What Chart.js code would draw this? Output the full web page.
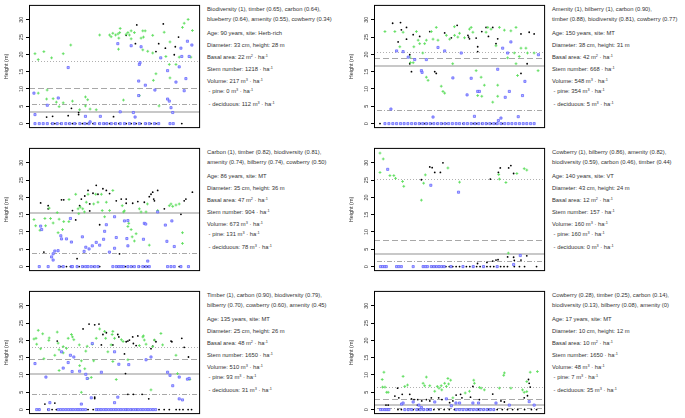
<!DOCTYPE html>
<html>
<head>
<meta charset="utf-8">
<script src="https://cdn.jsdelivr.net/npm/chart.js@4"></script>
<style>
  body { margin: 0; background: #fff; width: 685px; height: 418px; position: relative; overflow: hidden; font-family: "Liberation Sans", Arial, sans-serif; }
  canvas { position: absolute; }
  .txt { position: absolute; font-size: 5.8px; line-height: 7px; color: #333; white-space: nowrap; }
  sup { font-size: 3.8px; vertical-align: 2.5px; line-height: 0; }
</style>
</head>
<body>
<canvas id="c1" width="205" height="133" style="left:0;top:0"></canvas>
<canvas id="c2" width="205" height="133" style="left:345px;top:0"></canvas>
<canvas id="c3" width="205" height="133" style="left:0;top:143px"></canvas>
<canvas id="c4" width="205" height="133" style="left:345px;top:143px"></canvas>
<canvas id="c5" width="205" height="133" style="left:0;top:286px"></canvas>
<canvas id="c6" width="205" height="133" style="left:345px;top:286px"></canvas>
<script>
// y axis (height, m)
const yMin = -1.3;
const yMax = 34.3;
const yTicks = [0, 5, 10, 15, 20, 25, 30];

// panel 1 : biodiversity
const p1Green = [[3.5,20.2],[5.4,18.5],[8.7,20.8],[5.4,8.8],[10.6,9.7],[10.3,7.1],[14.1,7.2],[13.2,19.0],[16,6.2],[17.6,4.9],[20,20.2],[20,6],[24.4,22.7],[25.4,6.5],[29.6,4.0],[33,7.7],[34.3,6.9],[33,5.1],[35.7,4.2],[39.3,4.0],[41.3,25.6],[47.1,25.6],[48,25.1],[49,26.1],[50.6,25.6],[52,25.9],[53,26.3],[53.3,27.5],[52.5,24.7],[52.3,21.5],[55.2,6.8],[56.8,25.8],[57.8,26.3],[58.7,25.6],[59.7,26.8],[61.6,26.3],[59.7,24.5],[65.5,24.7],[66.5,26.8],[66.9,25],[67.9,26.8],[66.5,21.3],[69.4,20.9],[72.3,20.4],[72.3,25.5],[64.5,8.1],[72.7,12.5],[74.2,14.4],[76,5.1],[79,26.4],[80,19.4],[82,17.1],[82.4,23.6],[82.4,13.2],[85.9,17.1],[87.8,19.2],[89.7,27.8],[90.7,29],[93,30.1],[95.5,26.9],[94.6,19.2]];
const p1Black = [[10.3,1.9],[13.8,2.1],[22.9,2.3],[24.8,4.4],[29,3.2],[29,2.6],[49.4,2.0],[63,28.5],[62.2,23.1],[56.8,25.5],[75.8,23.1],[78.5,28.8],[79.7,21.8],[74.2,20.8],[84.9,19.9],[85.5,22.2],[87.4,25]];
const p1Blue = [[2.9,8.8],[3.5,2.6],[10.7,5.3],[17.1,7.4],[22.9,16.2],[33,2.1],[35.7,0.5],[41.7,2.1],[51.9,23.1],[53.3,3.4],[59.7,22.5],[61,3.2],[62,1.9],[64.5,17.1],[64.9,17.6],[64.1,12.3],[64.1,8.1],[65.5,22.2],[68,11.1],[73.6,9.7],[77,19],[81,15.3],[81,7.1],[82,6.5],[83,4.6],[84,3.2],[85.9,12],[87.8,16.4],[88.8,21.8],[89.3,19.4],[90.7,9.5],[91.7,13],[92.6,23.8],[93.6,19.4],[95.2,22.7]];
const p1BlueZero = [3.5,6,8.3,10.7,13.8,16.5,19,21.5,23.8,26.7,29.7,32.6,35.1,38.4,41.3,43.6,45.5,48.1,50.6,53.3,55.8,58.7,61.6,64.5,68,70.3,73.3,75.8,82.4,84.3];
const p1BlackZero = [13.2,15.1,18.4,23.4,25.4,27.3,31.2,33.9,37.4,40.9,44.2,47.1,50,52.5,56.8,59.7,62.6,65.5,68.4,71.3,74.2,89.3];
const p1Lines = [['dotted',18.1],['dashed',10.2],['dotdash',5.7],['solid',3.3]];
const p1Rank = ['Biodiversity (1), timber (0.65), carbon (0.64),', 'blueberry (0.64), amenity (0.55), cowberry (0.34)'];
const p1Stand = ['90', 'Herb-rich', '33', '28', '22', '1218', '217', '0', '112'];

// panel 2 : amenity
const p2Green = [[6.4,26.6],[12.2,26.6],[17,26.4],[15.1,22.2],[21,19.2],[21.3,17.6],[22.9,17.6],[23.3,22.2],[24.8,26.6],[25.8,24.1],[26.7,23.1],[29.6,23.1],[30.6,24.1],[28.5,20.4],[30.6,13.4],[31.6,12.5],[33.5,26.6],[34.5,24.4],[36.4,27.8],[37.4,24.1],[39.3,10.8],[40.3,9.3],[41.3,8.8],[42.3,25.5],[44.2,24.4],[46,17.3],[47.1,25.5],[47,28],[49,25],[50,26.1],[52.9,24.8],[55.8,27.3],[56.8,27.8],[57.8,26.4],[59.7,15.3],[60.6,8.1],[62.6,13.4],[63,7.9],[64.5,11.1],[65.5,26.4],[66.5,27.8],[68.4,27.3],[71.3,22.5],[72.3,11.1],[72.3,7.9],[73.3,27.8],[76.2,27],[78.1,19],[80,26.8],[82,20.4],[83,27.8],[83,17.3],[83.9,13.9],[84.9,19.4],[85.9,21.8],[88.8,21.8],[89.7,20.4],[93.6,20.4],[95.9,15.3],[69.4,6.2]];
const p2Black = [[10.9,29],[15.5,29.2],[16,27.1],[14.1,23.6],[19,27.8],[19,24.4],[20.9,19.9],[20.9,17.3],[21.9,15],[22.9,25.7],[26.7,25.2],[32.6,26.6],[35.5,15],[36.4,14.5],[41.3,26.2],[45.2,24.8],[48.6,28.4],[54.9,25.5],[55.3,25],[55.8,24.5],[59.7,24.7],[60.6,20.8],[60.6,22.2],[63,26.6],[65.5,27.8],[66.9,25.2],[69.4,27.8],[71.3,23.1],[72.3,24.5],[85.9,25.9],[90.7,26.4],[93.6,25.9],[85.9,14.5],[89.5,17.3]];
const p2Blue = [[13.2,21],[9.9,4.2],[17,20.8],[20,19.2],[23.8,18.5],[27.7,15.3],[28.1,14.8],[30.6,18.5],[34.5,1.9],[37.4,22],[41.3,21],[46.1,13.2],[51,20.4],[54.4,8.3],[56.8,13.1],[58.7,2.1],[60.6,9.3],[61.6,9.3],[72.3,15.7],[72.7,0.9],[74.2,1.6],[75.2,21.8],[76.7,7.6],[78.1,20.4],[79.1,9.3],[80,23.6],[86.8,8.1],[88.2,12.2],[84.3,2],[96.1,19.9]];
const p2BlueZero = [6.4,8.7,11,13.2,15.5,17.6,19.8,22,24.2,26.4,28.5,30.6,32.8,35,37.2,39.3,41.5,43.6,45.8,48,50,52.5,54.6,56.8,59,61.2,63.4,65.5,67.7,70,72,74.2,76.4,78.5,80.6,82.8,85,87.2,89.3,91.5,93.6];
const p2BlackZero = [3.5,24,27,29.5,31,33.6,37,40,42,52,58,60,63,66,68.5,71,75];
const p2Lines = [['dotted',20.7],['dashed',19.0],['solid',16.5],['dotdash',3.8]];
const p2Rank = ['Amenity (1), bilberry (1), carbon (0.90),', 'timber (0.88), biodiversity (0.81), cowberry (0.77)'];
const p2Stand = ['150', 'MT', '38', '31', '42', '668', '548', '354', '5'];

// panel 3 : carbon
const p3Green = [[2.9,13.6],[3.9,11.8],[6.4,10.5],[9.3,13.9],[9.7,11.8],[11.8,16.9],[12.6,13.9],[14.1,12.6],[16.5,15.6],[17.6,13.7],[17,9.8],[19.6,10.7],[20.3,13],[23.4,19.4],[23.3,13],[27.3,20.9],[28.7,16.7],[30,17.2],[29.1,15.3],[31.4,16.7],[32.4,15.8],[33.5,18.6],[34.5,20.9],[37.8,18.1],[39,20.9],[40.3,18.6],[42.3,20.9],[42.8,16.2],[44.2,14.4],[45.2,18.6],[47.1,16.2],[49,22],[54.5,17.6],[55.2,15.8],[55.8,16.1],[57.8,11.6],[58.3,12.5],[59.7,10.7],[60.3,8.6],[61.6,7.4],[62.6,9.5],[64.5,16.7],[65.5,15.8],[68.4,15.8],[69.2,18.1],[70.3,6.2],[75.2,16.2],[82,17.6],[83,18.1],[84,17.4],[85.9,17.8],[87.8,18.1],[89.7,9.8],[89.7,6.7]];
const p3Black = [[6.8,18.4],[11.2,17.6],[11.2,16.7],[8.7,4.2],[19,19.3],[20.3,19.3],[25.4,16.2],[27.3,13.5],[28.1,2.3],[29.6,17.6],[30.6,19.5],[32.6,20.4],[34.5,22],[35.5,18.1],[35.5,16.1],[37.4,21.2],[39.3,23.5],[40.3,20.9],[41.3,12.1],[43.2,22.5],[45.2,22],[47.1,21.1],[51,19],[52.9,3.7],[53.9,19.5],[56.8,19.5],[56.8,18.3],[60.6,18.3],[63.6,18.8],[67.4,18.6],[70.3,20.2],[71.3,20.9],[72.3,21.5],[72.9,19.5],[73.3,19],[75.2,22],[79.1,16.7],[88.8,15.1],[90.7,19],[91.7,19.5],[95.5,21.5]];
const p3Blue = [[6.8,11.7],[7.4,10.7],[13.2,2.8],[14.1,3.7],[15.1,4.5],[14.1,1.9],[17,4.6],[18.6,8.9],[19,8],[21.9,8],[24.8,7.1],[24.2,13.9],[31.2,8.6],[32.2,4.4],[33.2,5.6],[35.1,5.1],[37,6],[39.3,7],[41.3,6.2],[43.6,7.9],[44.2,10.2],[45.2,12.1],[47,4.2],[50,14.4],[50,5.3],[51,8.4],[55.8,13.2],[57.8,13.3],[57.2,8.1],[57.8,6],[66.9,7.9],[67.4,12.5],[68.2,12.3],[69.4,1.6],[75.2,15.8],[79.7,12],[80.6,7.3],[83.5,13.2],[84.9,5.8]];
const p3BlueZero = [6,11.2,17.6,20,24.8,25.4,28.1,31.2,33.1,34.5,36.4,38.4,40.3,49,51,52.5,53.9,55.2,57.8,59.7,61.6,64.1,66.5,68.4,70.3,81,83,84.9,88.8,93.2];
const p3BlackZero = [18.6,21.9,24.2,29.3,31.6,37.8,41.3,51.9,56.4,60.3,64.5,67.4,69.4,87.8];
const p3Lines = [['solid',15.6],['dotdash',3.9]];
const p3Rank = ['Carbon (1), timber (0.82), biodiversity (0.81),', 'amenity (0.74), bilberry (0.74), cowberry (0.50)'];
const p3Stand = ['86', 'MT', '35', '36', '47', '904', '673', '131', '78'];

// panel 4 : cowberry
const p4Green = [[3.5,32.8],[5.4,31.1],[3.5,27.2],[9.3,26.3],[11.6,26.3],[12.6,25.5],[16.7,24.6],[17.4,23.2],[27.7,19.2],[29,24.1],[30,26.5],[43.2,28.5],[50,24.4],[73.3,25.3],[72.9,26.6],[77.1,24.3],[83.5,26.9],[87.8,28.3],[89.3,27.9],[78.5,3.9]];
const p4Black = [[27.7,25.1],[32.6,28.8],[34,28.6],[35.5,27.2],[38.8,27.2],[40.3,30],[68,25.3],[72.7,27.2],[73.8,28.5],[78.7,28.5],[80,29.2],[81.6,26.9],[69.4,1.6],[71.3,1.9],[72.5,2],[78.1,2.8],[81.6,2.7],[82,1.8],[85.9,1.9],[89.3,3.1],[60.5,0.9],[66,1.2]];
const p4Blue = [[8,28.1],[33.2,23.5],[49.4,21.5],[85.5,3.2],[81.6,0.6]];
const p4BlueZero = [3.8,5,6.2,7.2,13.2,14.5,16,22.9,28.7,30,31.2,33.5,35,36.5,38,39.5,41,45,52,58,64,72];
const p4BlackZero = [34,36,38,40,42,44,46,48,50,52,54,56,58,60,62,64,66,68,70,72,74,76,78,82,85,88,95];
const p4Lines = [['dotted',25.3],['dashed',7.6],['solid',3.6],['dotdash',1.7]];
const p4Rank = ['Cowberry (1), bilberry (0.86), amenity (0.82),', 'biodiversity (0.59), carbon (0.46), timber (0.44)'];
const p4Stand = ['140', 'VT', '43', '24', '12', '157', '160', '160', '0'];

// panel 5 : timber
const p5Green = [[2.9,20.4],[4.1,20.6],[4.5,18.9],[5.4,22.9],[6.8,17.6],[8,21.9],[8.7,14.7],[11.8,20.7],[11.6,20],[15.1,15.7],[16.5,22.4],[17,19.2],[17.6,17.3],[17.6,11.3],[20,16.4],[20,18.2],[21.9,17.7],[22.9,20.6],[24.8,21.7],[25.4,21],[26.2,20.2],[29.4,18.7],[29.6,12.7],[30.6,14.1],[30.6,5],[32.6,11.8],[33.2,16.9],[34,18.3],[34.5,9],[36.4,9.3],[37,18.9],[37.8,14.1],[39.3,20.6],[41.3,23.3],[44.2,22.6],[44.8,20.6],[46.1,16.7],[48,18.7],[48.6,21.7],[49,22.6],[49,13.9],[50,20.6],[51,8.7],[54,20.2],[55,19.7],[57.8,14.4],[64.5,18.5],[66.5,21],[66.9,21.3],[67.4,20.1],[68.4,18.9],[71.3,5.7],[72.3,18.2],[73.3,20.1],[77.1,22],[78.1,18.7],[85.9,15.7],[86.8,10.4],[94,8.7]];
const p5Black = [[16.5,19.8],[31.6,23.3],[35.1,24.7],[38.4,24.5],[40.9,24.7],[42.3,18.7],[43.2,21.7],[45.2,22.2],[49,18.7],[51.9,21.7],[52.5,21],[55.8,16.1],[56.4,10.4],[56.8,19.6],[57.8,19.8],[58.7,20.1],[60.6,21],[61,19.1],[62.6,18.5],[63.6,21.3],[71.3,17.6],[72.3,18.3],[73.3,20.1],[74.2,19.6],[83,19.8],[83.5,19.6],[89.3,20.6],[90.7,18],[93.2,15.2],[57.8,4.4],[61,4.4],[66.1,4.4],[70,3.1],[38.4,3.6],[38.4,3.2],[15.1,1.9],[9.3,1.6]];
const p5Blue = [[3.5,13.3],[9.9,9.4],[12.2,2],[19,16.7],[20,12],[22.9,13.6],[24.2,15.7],[25.2,11],[26.2,15.2],[29.6,11.1],[30.6,1.6],[33.2,10.2],[34,9],[36.4,3.4],[37,19.1],[42.3,10.8],[50,16.7],[50,2],[51.9,3.6],[52.5,13.1],[58.3,13],[68.4,14.4],[71.3,15.2],[81,10.8],[82.4,9.9],[84,6.9],[87.8,9.4],[87.8,3.1],[89.7,2.8],[92.6,8.8],[93.6,9]];
const p5BlueZero = [4.5,6,11.5,17.1,18.5,20,21.5,23,24.4,25.8,27.3,28.7,30,31.4,33,39.3,40.7,42.1,43.6,45,46.5,48,49.4,50.8,52.3,53.7,55.2,56.6,58,59.5,61,62.4,63.8,65.3,66.7,68.2,69.6,71,72.5,74];
const p5BlackZero = [6,11,13.5,16,34.5,37.5,40,57,60,63,76,79,82,86,88,90,93,95];
const p5Lines = [['dotted',18],['dashed',14.6],['solid',10.3],['dotdash',4.4]];
const p5Rank = ['Timber (1), carbon (0.90), biodiversity (0.79),', 'bilberry (0.70), cowberry (0.60), amenity (0.45)'];
const p5Stand = ['135', 'MT', '25', '26', '48', '1650', '510', '93', '31'];

// panel 6 : young stand
const p6Green = [[4.8,8.7],[5.8,10.8],[5,6.5],[6.4,6.5],[7.4,5],[8.3,5],[17,9.6],[18,6.7],[19.6,7.1],[30.6,9.4],[28.7,7.6],[29.6,6.9],[32.6,6.9],[35.5,5.3],[37,6.7],[38,6.2],[39.3,6.9],[39.6,5.7],[41.3,7.6],[42.3,6.7],[43.2,9],[43.6,7.4],[44.8,8.5],[46.1,3.4],[53.3,4.8],[55.8,5.3],[58.3,8.5],[58.7,7.6],[61.6,6.4],[62.6,6.2],[64.5,5.7],[73.3,6.2],[75.8,9.9],[76.2,10.6],[80,6.2],[86.8,5.7],[87.8,5],[89.3,8.1],[91.3,10.8],[95.5,11],[89.3,5.2]];
const p6Black = [[7,1.3],[8.3,1.3],[12.2,3.9],[13.8,6.2],[14.5,3.4],[16.5,4.4],[20.9,4.4],[21.9,3.1],[23.4,2.9],[25.4,1.3],[25.6,2.9],[27.9,2.5],[30.6,2.9],[32.6,2.5],[33.5,3.4],[37.8,3.4],[39.7,2.9],[42.3,3.1],[44.2,2],[46.1,2.5],[48,4.2],[50.6,4.4],[51.4,3.4],[56.4,3.6],[57.8,6.7],[61.6,2.9],[69.4,4.5],[74.2,2.5],[76.2,2.2],[87.8,3.4],[89.7,4],[90.3,8.7],[90.7,7.6],[91.3,6.5]];
const p6Blue = [[16.1,1.6],[17,1.9],[22.9,2.2],[26.2,1.3],[27.7,0.6],[35.5,2.2],[42.3,3.1],[45.2,1.1],[47.9,1.9],[50,1.9],[57.8,1.9],[61.1,1.9],[71.3,1.9],[79.1,1.3],[90.7,2.3],[93.6,1.3]];
const p6BlueZero = [3.8,5,6.4,7.6,8.7,18,20,22,25,27,29,31,33,48,50,52,54,56,58,60,62,64,66,68,70];
const p6BlackZero = [14,16,20,23,26,29,32,35,38,41,44,47,52,55,58,61,64,67,70,72,75,78,81,84,88,92,95];
const p6Lines = [['dotted',6.5],['dashed',3.1],['solid',1.2],['dotdash',0.4]];
const p6Rank = ['Cowberry (0.28), timber (0.25), carbon (0.14),', 'biodiversity (0.13), bilberry (0.08), amenity (0)'];
const p6Stand = ['17', 'MT', '10', '12', '10', '1650', '48', '7', '35'];

const lineStyles = {
  dotted: { color: '#b0b0b0', width: 1, dash: [1, 2] },
  dashed: { color: '#a8a8a8', width: 1, dash: [6, 3] },
  solid: { color: '#c8c8c8', width: 2, dash: [] },
  dotdash: { color: '#a8a8a8', width: 1, dash: [1, 2, 5, 2] }
};

const panelPlugin = {
  id: 'panel',
  beforeDatasetsDraw(chart, args, opts) {
    const { ctx, chartArea: a, scales: { y } } = chart;
    ctx.save();
    ctx.beginPath();
    ctx.rect(a.left, a.top, a.width, a.height);
    ctx.clip();
    for (const [kind, value] of opts.lines) {
      const st = lineStyles[kind];
      const py = Math.round(y.getPixelForValue(value)) + (st.width === 1 ? 0.5 : 0);
      ctx.strokeStyle = st.color;
      ctx.lineWidth = st.width;
      ctx.setLineDash(st.dash);
      ctx.beginPath();
      ctx.moveTo(a.left, py);
      ctx.lineTo(a.right, py);
      ctx.stroke();
    }
    ctx.restore();
  },
  afterDraw(chart) {
    const { ctx, chartArea: a, scales: { y } } = chart;
    ctx.save();
    ctx.strokeStyle = '#000';
    ctx.lineWidth = 1;
    ctx.strokeRect(a.left + 0.5, a.top + 0.5, a.width - 1, a.height - 1);
    ctx.fillStyle = '#333';
    ctx.font = '5.5px "Liberation Sans", Arial, sans-serif';
    ctx.textAlign = 'center';
    ctx.textBaseline = 'middle';
    for (const t of y.ticks) {
      ctx.save();
      ctx.translate(a.left - 8, y.getPixelForValue(t.value));
      ctx.rotate(-Math.PI / 2);
      ctx.fillText(String(t.value), 0, 0);
      ctx.restore();
    }
    ctx.restore();
  }
};

function buildPanel(id, green, black, blue, blueZero, blackZero, lines) {
  const pts = arr => arr.map(p => ({ x: p[0], y: p[1] }));
  const zeros = arr => arr.map(x => ({ x: x, y: 0 }));
  new Chart(document.getElementById(id), {
    type: 'scatter',
    data: {
      datasets: [
        { data: zeros(blueZero).concat(pts(blue)), pointStyle: 'rect', pointRadius: 1.5, borderWidth: 0.7, borderColor: '#5a5aff', backgroundColor: '#b8bcff' },
        { data: pts(green), pointStyle: 'cross', pointRadius: 1.4, borderWidth: 0.9, borderColor: '#5ede5e', backgroundColor: '#5ede5e' },
        { data: zeros(blackZero).concat(pts(black)), pointStyle: 'circle', pointRadius: 0.9, borderWidth: 0, backgroundColor: '#000' }
      ]
    },
    options: {
      animation: false,
      responsive: false,
      devicePixelRatio: 1,
      events: [],
      layout: { padding: { top: 2, right: 4, bottom: 3, left: 0 } },
      plugins: { legend: { display: false }, tooltip: { enabled: false }, panel: { lines: lines } },
      scales: {
        x: { type: 'linear', min: 0, max: 100, display: false },
        y: {
          min: yMin,
          max: yMax,
          afterBuildTicks: s => { s.ticks = yTicks.map(v => ({ value: v })); },
          afterFit: s => { s.width = 29; },
          ticks: { display: false },
          border: { display: false },
          grid: { drawOnChartArea: false, drawTicks: true, tickLength: 3, color: '#000' },
          title: { display: true, text: 'Height (m)', color: '#333', font: { size: 5.5, family: '"Liberation Sans", Arial, sans-serif' }, padding: { top: 3, bottom: 0 } }
        }
      }
    },
    plugins: [panelPlugin]
  });
}

function writeInfo(left, top, rank, s) {
  const lines = [
    rank[0],
    rank[1],
    `Age: ${s[0]} years, site: ${s[1]}`,
    `Diameter: ${s[2]} cm, height: ${s[3]} m`,
    `Basal area: ${s[4]} m<sup>2</sup> · ha<sup>-1</sup>`,
    `Stem number: ${s[5]} · ha<sup>-1</sup>`,
    `Volume: ${s[6]} m<sup>3</sup> · ha<sup>-1</sup>`,
    `&nbsp;- pine: ${s[7]} m<sup>3</sup> · ha<sup>-1</sup>`,
    `&nbsp;- deciduous: ${s[8]} m<sup>3</sup> · ha<sup>-1</sup>`
  ];
  const offsets = [9, 19, 33, 45, 57, 69, 81, 91, 104];
  lines.forEach((html, i) => {
    const div = document.createElement('div');
    div.className = 'txt';
    div.style.left = left + 'px';
    div.style.top = (top + offsets[i] - 3.5) + 'px';
    div.innerHTML = html;
    document.body.appendChild(div);
  });
}

buildPanel('c1', p1Green, p1Black, p1Blue, p1BlueZero, p1BlackZero, p1Lines);
buildPanel('c2', p2Green, p2Black, p2Blue, p2BlueZero, p2BlackZero, p2Lines);
buildPanel('c3', p3Green, p3Black, p3Blue, p3BlueZero, p3BlackZero, p3Lines);
buildPanel('c4', p4Green, p4Black, p4Blue, p4BlueZero, p4BlackZero, p4Lines);
buildPanel('c5', p5Green, p5Black, p5Blue, p5BlueZero, p5BlackZero, p5Lines);
buildPanel('c6', p6Green, p6Black, p6Blue, p6BlueZero, p6BlackZero, p6Lines);

writeInfo(207, 0, p1Rank, p1Stand);
writeInfo(552, 0, p2Rank, p2Stand);
writeInfo(207, 143, p3Rank, p3Stand);
writeInfo(552, 143, p4Rank, p4Stand);
writeInfo(207, 286, p5Rank, p5Stand);
writeInfo(552, 286, p6Rank, p6Stand);
</script>
</body>
</html>
